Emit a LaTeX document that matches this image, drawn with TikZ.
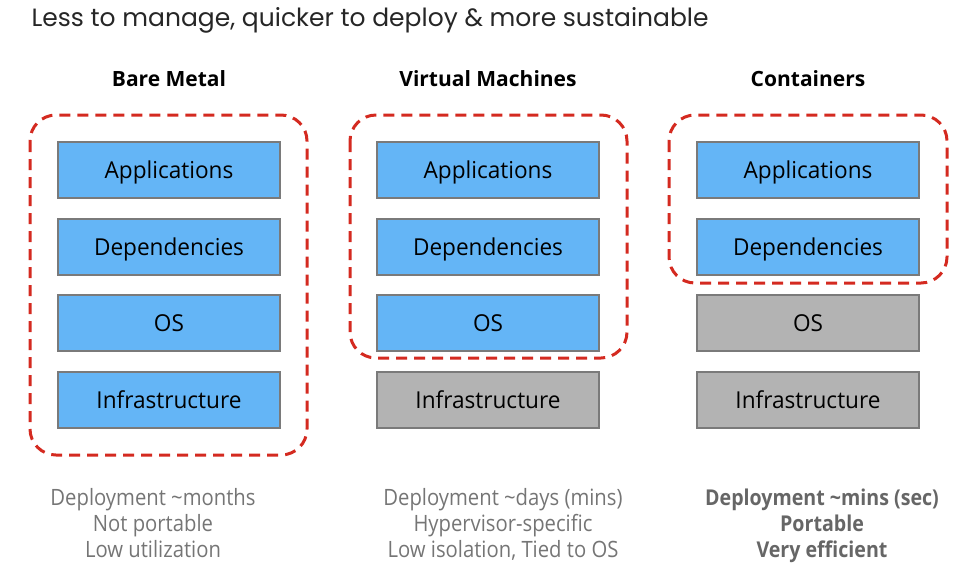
\documentclass[tikz,border=0pt]{standalone}
\usepackage{fontspec}
\setmainfont{Open Sans}
\newfontfamily\titlefont{Poppins}
\newfontfamily\condfont[FakeStretch=0.9]{Open Sans}
\newfontfamily\boxfont[FakeStretch=0.97]{Open Sans}
\definecolor{bluefill}{HTML}{64B5F6}
\definecolor{grayfill}{HTML}{B3B3B3}
\definecolor{boxborder}{HTML}{7A7A7A}
\definecolor{dashred}{HTML}{D42A20}
\definecolor{notegray}{HTML}{757575}
\definecolor{notedark}{HTML}{666666}
\newcommand{\boxtext}[1]{\raisebox{-8.5pt}[0pt][0pt]{#1}}
\begin{document}
\begin{tikzpicture}[x=1pt,y=-1pt,
  layer/.style={draw=boxborder, line width=2pt, minimum width=222pt, minimum height=56pt,
    inner sep=0pt, font=\boxfont\fontsize{23.3}{26}\selectfont, text=black},
  bluebox/.style={layer, fill=bluefill},
  graybox/.style={layer, fill=grayfill},
  dashbox/.style={draw=dashred, line width=3pt, dash pattern=on 11pt off 7pt, rounded corners=26pt},
  header/.style={font=\bfseries\fontsize{21}{24}\selectfont, text=black},
  note/.style={align=center, font=\condfont\fontsize{22.5}{26}\selectfont, text=notegray},
  notebold/.style={align=center, font=\condfont\bfseries\fontsize{21.8}{26}\selectfont, text=notedark}]
\useasboundingbox (0,0) rectangle (977,574);

\node[anchor=west, font=\titlefont\fontsize{25}{30}\selectfont, text=black!85] (title) at (28,20) {Less to manage, quicker to deploy \& more sustainable};

% column centers 169, 488, 808
\node[header] (h1) at (169,79) {Bare Metal};
\node[header] (h2) at (488,79) {Virtual Machines};
\node[header] (h3) at (808,79) {Containers};

\node[bluebox] (a1) at (169,170) {\boxtext{Applications}};
\node[bluebox] (d1) at (169,247) {\boxtext{Dependencies}};
\node[bluebox] (o1) at (169,323) {\boxtext{OS}};
\node[bluebox] (i1) at (169,400) {\boxtext{Infrastructure}};

\node[bluebox] (a2) at (488,170) {\boxtext{Applications}};
\node[bluebox] (d2) at (488,247) {\boxtext{Dependencies}};
\node[bluebox] (o2) at (488,323) {\boxtext{OS}};
\node[graybox] (i2) at (488,400) {\boxtext{Infrastructure}};

\node[bluebox] (a3) at (808,170) {\boxtext{Applications}};
\node[bluebox] (d3) at (808,247) {\boxtext{Dependencies}};
\node[graybox] (o3) at (808,323) {\boxtext{OS}};
\node[graybox] (i3) at (808,400) {\boxtext{Infrastructure}};

\draw[dashbox] (30,115) rectangle (307,455);
\draw[dashbox] (350,115) rectangle (627,358);
\draw[dashbox] (669,115) rectangle (947,283);

\node[note, anchor=base] (n1) at (153,557) {Deployment \textasciitilde months\\Not portable\\Low utilization};
\node[note, anchor=base] (n2) at (503,557) {Deployment \textasciitilde days (mins)\\Hypervisor-specific\\Low isolation, Tied to OS};
\node[notebold, anchor=base] (n3) at (822,557) {Deployment \textasciitilde mins (sec)\\Portable\\Very efficient};
\end{tikzpicture}
\end{document}
